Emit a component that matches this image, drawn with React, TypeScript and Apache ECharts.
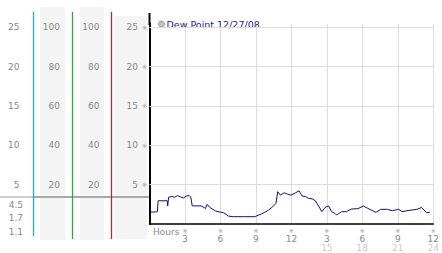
import React, { useEffect, useRef } from "react";
import * as echarts from "echarts";

const hours = [0.04,0.66,0.73,1.5,1.54,1.62,1.87,2.12,2.37,2.62,2.87,3.11,3.36,3.5,3.61,4.36,4.61,4.73,4.88,5.1,5.58,6.02,6.27,6.69,7.1,7.93,8.9,9.45,10.0,10.42,10.7,10.84,11.06,11.4,11.67,11.94,12.36,12.64,12.92,13.16,13.47,13.75,14.02,14.3,14.58,14.85,15.13,15.41,15.68,15.82,16.24,16.65,17.07,17.62,18.09,18.46,19.15,19.56,20.12,20.53,21.08,21.36,21.78,22.61,23.02,23.44,23.71];
const dewPoint = [1.5,1.55,2.95,2.95,2.3,3.4,3.5,3.4,3.6,3.45,3.3,3.55,3.6,3.4,2.3,2.3,2.1,1.95,2.5,2.1,1.65,1.5,1.43,1.0,0.93,0.93,0.93,1.27,1.69,2.19,2.62,4.1,3.67,3.96,3.8,3.67,3.96,4.22,3.54,3.5,3.25,3.2,2.95,2.28,1.56,2.1,2.3,1.56,1.35,1.14,1.56,1.56,1.9,1.95,2.28,1.99,1.48,1.86,1.86,1.69,1.86,1.56,1.69,1.86,2.1,1.43,1.5];

const seriesName = "Dew Point 12/27/08";
const hourTicks = [0, 3, 6, 9, 12, 15, 18, 21, 24];
const hourLabels = ["", "3", "6", "9", "12", "3", "6", "9", "12"];
const hourLabels2 = ["", "", "", "", "", "15", "18", "21", "24"];
const gridValues = [5, 10, 15, 20, 25];
const extraLabels = ["4.5", "1.7", "1.1"];

const FONT = "DejaVu Sans";

export default function App() {
  const ref = useRef<HTMLDivElement>(null);
  useEffect(() => {
    document.body.style.margin = "0";
    const chart = echarts.init(ref.current!, null, { renderer: "svg" });
    const data = hours.map((h, i) => [h, dewPoint[i]]);
    const yLabel = (max: number) => (v: number) =>
      v <= 0 || v > max + 0.001 ? "" : String(v);
    const colAxis = (offset: number, max: number, interval: number, margin: number, labelMax: number) => ({
      type: "value",
      position: "left",
      offset,
      min: 0,
      max,
      interval,
      axisLine: { show: false },
      axisTick: { show: false },
      splitLine: { show: false },
      axisLabel: {
        margin,
        fontFamily: FONT,
        fontSize: 9,
        color: "#888",
        formatter: yLabel(labelMax),
      },
    });
    const extraY = [205, 218, 232];
    chart.setOption({
      animation: false,
      legend: {
        left: 153,
        top: 14,
        itemWidth: 6,
        itemHeight: 6,
        icon: "circle",
        data: [
          {
            name: seriesName,
            itemStyle: { color: "#c4c4c4", borderColor: "#999", borderWidth: 1 },
          },
        ],
        textStyle: { fontFamily: FONT, fontSize: 9.5, color: "#1c1c99", padding: [0, 0, 0, -3] },
      },
      grid: { left: 149.5, right: 3.5, top: 24, bottom: 29, containLabel: false },
      xAxis: {
        type: "value",
        min: 0,
        max: 24,
        interval: 3,
        axisLine: { show: true, lineStyle: { color: "#000", width: 1.5 } },
        axisTick: { show: false },
        splitLine: { show: true, lineStyle: { color: "#dcdcdc", width: 1 } },
        axisLabel: {
          margin: 2,
          fontFamily: FONT,
          formatter: (v: number) => {
            const i = hourTicks.indexOf(v);
            if (i <= 0) return "";
            let s = `{m|※}\n{v|${hourLabels[i]}}`;
            if (hourLabels2[i]) s += `\n{w|${hourLabels2[i]}}`;
            return s;
          },
          rich: {
            m: { fontSize: 6, color: "#999", lineHeight: 8, fontFamily: FONT },
            v: { fontSize: 9, color: "#888", lineHeight: 9, fontFamily: FONT },
            w: { fontSize: 9, color: "#ccc", lineHeight: 10, fontFamily: FONT },
          },
        },
      },
      yAxis: [
        {
          type: "value",
          min: 0,
          max: 25.4,
          interval: 5,
          axisLine: { show: true, lineStyle: { color: "#000", width: 2 } },
          axisTick: { show: false },
          splitLine: { show: false },
          axisLabel: {
            margin: 2.5,
            fontFamily: FONT,
            formatter: (v: number) => (v <= 0 || v > 25 ? "" : `{v|${v}}{s|※}`),
            rich: {
              v: { fontSize: 9, color: "#888", fontFamily: FONT },
              s: { fontSize: 6, color: "#999", padding: [0, 0, 0, 4], fontFamily: FONT },
            },
          },
        },
        colAxis(38.5, 101.6, 20, 11.5, 100),
        colAxis(77.5, 101.6, 20, 12, 100),
        colAxis(116.5, 25.4, 5, 13.5, 25),
      ],
      series: [
        {
          name: seriesName,
          type: "line",
          data,
          symbol: "none",
          lineStyle: { color: "#10108a", width: 1 },
          itemStyle: { color: "#10108a" },
          z: 5,
          markLine: {
            silent: true,
            symbol: "none",
            label: { show: false },
            lineStyle: { color: "#dcdcdc", width: 1, type: "solid" },
            data: gridValues.map((g) => ({ yAxis: g })),
          },
        },
      ],
      graphic: [
        { type: "rect", z: -10, shape: { x: 40, y: 7, width: 25, height: 233 }, style: { fill: "#f4f4f4" } },
        { type: "rect", z: -10, shape: { x: 80, y: 7, width: 24, height: 233 }, style: { fill: "#f4f4f4" } },
        { type: "rect", z: -10, shape: { x: 115, y: 16, width: 32, height: 223 }, style: { fill: "#f4f4f4" } },
        { type: "line", z: 20, shape: { x1: 0, y1: 197, x2: 33, y2: 197 }, style: { stroke: "#cfcfcf", lineWidth: 2 } },
        { type: "line", z: 20, shape: { x1: 33, y1: 197, x2: 149, y2: 197 }, style: { stroke: "#a8a8a8", lineWidth: 2 } },
        { type: "line", z: 30, shape: { x1: 33.5, y1: 12, x2: 33.5, y2: 236 }, style: { stroke: "#22aad6", lineWidth: 1.3 } },
        { type: "line", z: 30, shape: { x1: 72.5, y1: 12, x2: 72.5, y2: 239 }, style: { stroke: "#2ea82e", lineWidth: 1.3 } },
        { type: "line", z: 30, shape: { x1: 111.5, y1: 12, x2: 111.5, y2: 239 }, style: { stroke: "#b42a2a", lineWidth: 1.3 } },
        { type: "line", z: 30, shape: { x1: 149.5, y1: 13, x2: 149.5, y2: 25 }, style: { stroke: "#000", lineWidth: 2 } },
        {
          type: "text",
          z: 30,
          style: { x: 153, y: 232, text: "Hours", fontFamily: FONT, fontSize: 9, fill: "#888", verticalAlign: "middle" },
        },
        ...extraLabels.map((t, i) => ({
          type: "text",
          z: 30,
          style: { x: 23, y: extraY[i], text: t, fontFamily: FONT, fontSize: 9, fill: "#888", align: "right", verticalAlign: "middle" },
        })),
      ],
    });
    return () => chart.dispose();
  }, []);
  return (
    <div
      ref={ref}
      style={{ position: "absolute", left: 0, top: 0, width: 442, height: 253 }}
    />
  );
}
